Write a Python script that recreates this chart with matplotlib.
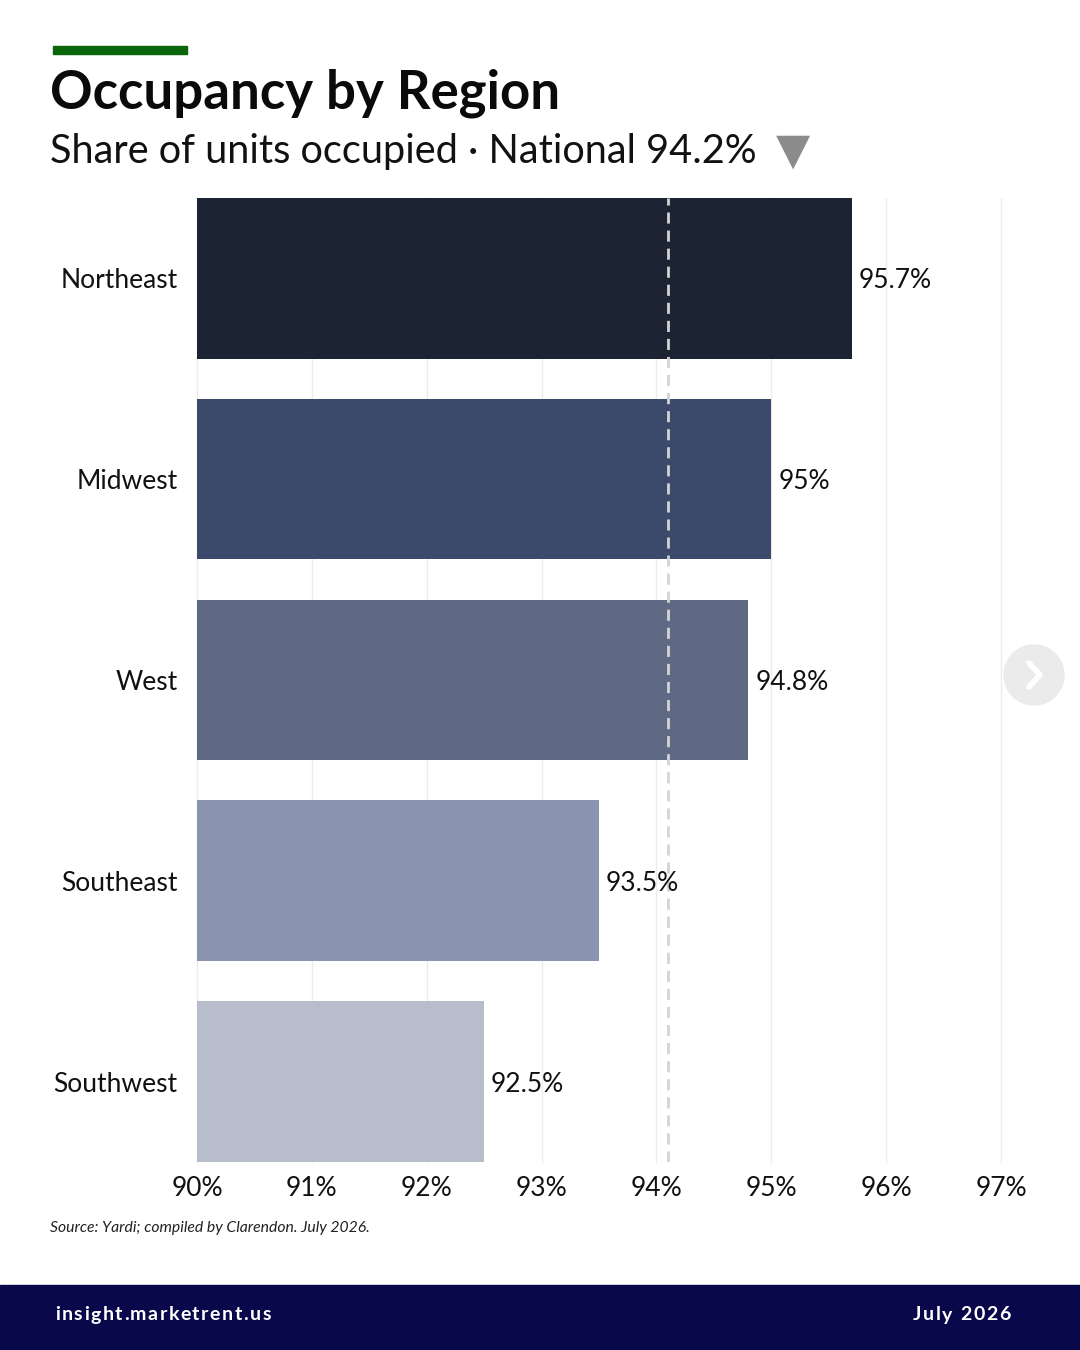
import matplotlib.pyplot as plt
from matplotlib.patches import Rectangle, Ellipse

plt.rcParams['font.family'] = ['Lato', 'DejaVu Sans']

# data
regions = ['Northeast', 'Midwest', 'West', 'Southeast', 'Southwest']
occupancy = [95.7, 95.0, 94.8, 93.5, 92.5]
value_labels = ['95.7%', '95%', '94.8%', '93.5%', '92.5%']
bar_colors = ['#1c2333', '#3b4a6b', '#5f6984', '#8a94b0', '#b7bdcb']
national_line = 94.1
xticks = [90, 91, 92, 93, 94, 95, 96, 97]

W, H = 1080, 1350
fig = plt.figure(figsize=(10.8, 13.5), dpi=100)
ax = fig.add_axes([197/W, 1 - 1162/H, 804/W, 964/H])

ypos = list(range(len(regions)))
ax.barh(ypos, [v - 90 for v in occupancy], left=90, height=0.8,
        color=bar_colors, zorder=2)
for y, v, lab in zip(ypos, occupancy, value_labels):
    ax.text(v + 0.06, y, lab, va='center_baseline', ha='left', fontsize=19,
            color='#111111', zorder=4)

ax.axvline(national_line, color='#d4d4d4', linestyle=(0, (4, 2.5)), linewidth=2, zorder=3)

ax.set_xlim(90, 97)
ax.set_ylim(4.4, -0.4)
ax.set_xticks(xticks)
ax.set_xticklabels([f'{t}%' for t in xticks], fontsize=19)
ax.set_yticks(ypos)
ax.set_yticklabels(regions, fontsize=19)
ax.tick_params(axis='both', length=0, colors='#111111')
ax.tick_params(axis='y', pad=14)
ax.tick_params(axis='x', pad=10)
for t in xticks:
    ax.axvline(t, color='#ececec', linewidth=1, zorder=0, clip_on=False)
for s in ax.spines.values():
    s.set_visible(False)

# header
fig.patches.append(Rectangle((53/W, 1 - 54/H), 134/W, 8/H,
                             transform=fig.transFigure, color='#0b650b'))
fig.text(50/W, 1 - 93/H, 'Occupancy by Region', fontsize=38, fontweight='bold',
         va='center', ha='left', color='#0a0a0a')
fig.text(50/W, 1 - 151/H, 'Share of units occupied · National 94.2%', fontsize=28.6,
         va='center', ha='left', color='#111111')
fig.text(776/W, 1 - 151/H, '▼', fontsize=32, family='DejaVu Sans',
         va='center', ha='left', color='#8c8c8c')

# source
fig.text(50/W, 1 - 1228/H, 'Source: Yardi; compiled by Clarendon. July 2026.',
         fontsize=11.3, style='italic', va='center', ha='left', color='#222222')

# side nav button
fig.patches.append(Ellipse((1034/W, 1 - 675/H), 60/W, 60/H, transform=fig.transFigure,
                           color='#ebebeb'))
fig.lines.append(plt.Line2D([1029/W, 1040/W, 1029/W],
                            [1 - 663/H, 1 - 675/H, 1 - 687/H],
                            transform=fig.transFigure, color='white', linewidth=4,
                            solid_capstyle='round', solid_joinstyle='round'))

# footer band
fig.patches.append(Rectangle((0, 0), 1, 65/H, transform=fig.transFigure, color='#08084a'))


def spaced_text(x_px, y_px, s, spacing_px, align='left', **kw):
    # draw characters one by one with extra tracking
    r = fig.canvas.get_renderer()
    widths = []
    for ch in s:
        t = fig.text(0, 0, ch, **kw)
        widths.append(t.get_window_extent(r).width if ch != ' ' else 5)
        t.remove()
    total = sum(widths) + spacing_px * (len(s) - 1)
    x = x_px if align == 'left' else x_px - total
    for ch, w in zip(s, widths):
        fig.text(x / W, 1 - y_px / H, ch, va='center', ha='left', **kw)
        x += w + spacing_px


spaced_text(55, 1315, 'insight.marketrent.us', 1.5, fontsize=14, fontweight='bold', color='white')
spaced_text(1010, 1315, 'July 2026', 1.5, align='right', fontsize=14, fontweight='bold', color='white')

fig.savefig('out.png', dpi=100)
